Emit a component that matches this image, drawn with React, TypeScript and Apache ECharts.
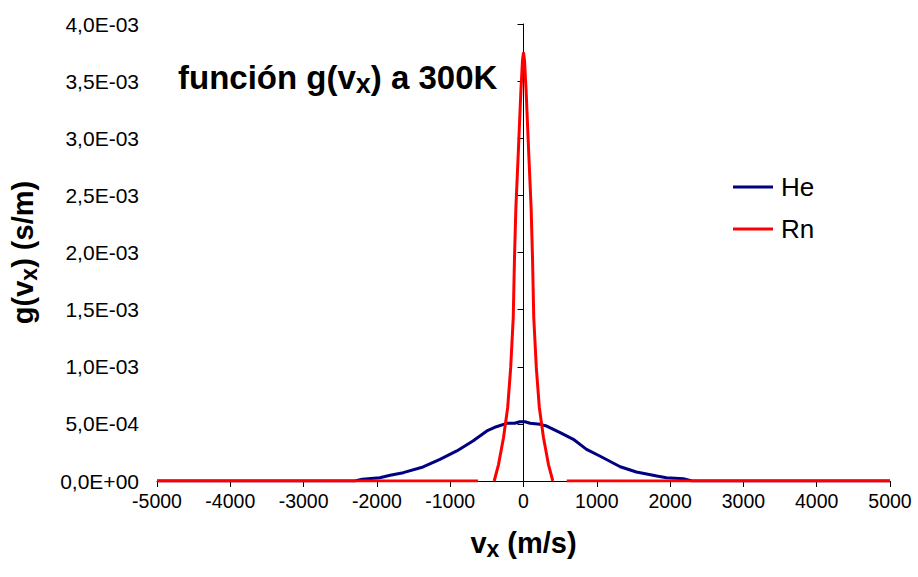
import React, { useEffect, useRef } from "react";
import * as echarts from "echarts";

// x axis ticks (m/s)
const xTicks = [-5000, -4000, -3000, -2000, -1000, 0, 1000, 2000, 3000, 4000, 5000];

// He curve (v_x in m/s, g in s/m)
const heX = [-5000, -2300, -2200, -1960, -1820, -1640, -1370, -1140, -910, -690, -500, -370, -230, -120, -50, 20, 90, 225, 316, 500, 680, 860, 1040, 1320, 1540, 1820, 1950, 2180, 2300, 5000];
const heY = [0, 0, 1.5e-5, 2.9e-5, 5.0e-5, 7.3e-5, 1.23e-4, 1.9e-4, 2.63e-4, 3.5e-4, 4.38e-4, 4.75e-4, 5.05e-4, 5.05e-4, 5.19e-4, 5.19e-4, 5.05e-4, 4.96e-4, 4.81e-4, 4.23e-4, 3.65e-4, 2.77e-4, 2.19e-4, 1.25e-4, 7.9e-5, 4.4e-5, 2.9e-5, 2.0e-5, 0, 0];

// Rn curve (null = gap in the drawn line)
const rnX = [-5000, -620, -500, -400, -340, -273, -216, -175, -140, -123, -104, -72, -36, -14, 0, 14, 36, 72, 104, 123, 140, 175, 216, 273, 340, 400, 500, 590, 5000];
const rnY: (number | null)[] = [0, 0, null, 0, 1.46e-4, 3.79e-4, 6.42e-4, 9.9e-4, 1.43e-3, 1.95e-3, 2.39e-3, 2.86e-3, 3.41e-3, 3.68e-3, 3.75e-3, 3.68e-3, 3.41e-3, 2.86e-3, 2.39e-3, 1.95e-3, 1.43e-3, 9.9e-4, 6.42e-4, 3.79e-4, 1.46e-4, 0, null, 0, 0];

const seriesNames = ["He", "Rn"];
const seriesColors = ["#000080", "#FF0000"];

const FONT = "'Liberation Sans', Arial, Helvetica, sans-serif";

function fmtY(v: number): string {
  const s = v.toExponential(1);
  const [m, e] = s.split("e");
  const n = parseInt(e, 10);
  const sign = n < 0 ? "-" : "+";
  const a = Math.abs(n);
  return m.replace(".", ",") + "E" + sign + (a < 10 ? "0" : "") + a;
}

export default function App() {
  const ref = useRef<HTMLDivElement>(null);
  useEffect(() => {
    if (!ref.current) return;
    const chart = echarts.init(ref.current, undefined, { renderer: "svg" });
    const sub = (size: number, lh: number, pt: number) => ({
      fontSize: size,
      fontWeight: "bold",
      fontFamily: FONT,
      color: "#000",
      lineHeight: lh,
      verticalAlign: "bottom",
      padding: [pt, 0, 0, 0],
    });
    const main = (size: number, lh: number) => ({
      fontSize: size,
      fontWeight: "bold",
      fontFamily: FONT,
      color: "#000",
      lineHeight: lh,
      verticalAlign: "top",
    });
    chart.setOption({
      animation: false,
      backgroundColor: "#fff",
      title: {
        text: "{a|función g(v}{s|x}{a|) a 300K}",
        left: 178,
        top: 61,
        padding: 0,
        textStyle: {
          rich: { a: main(33, 36), s: sub(27, 27, 15) },
        },
      },
      legend: {
        orient: "vertical",
        left: 733,
        top: 173,
        padding: 0,
        itemWidth: 40,
        itemHeight: 3,
        itemGap: 14,
        icon: "rect",
        data: seriesNames,
        textStyle: {
          fontSize: 26,
          lineHeight: 28,
          fontFamily: FONT,
          color: "#000",
          padding: [0, 0, 0, 3],
        },
      },
      grid: {
        left: 157,
        right: 28,
        top: 24,
        bottom: 96,
        containLabel: false,
        outerBoundsMode: "none",
      },
      xAxis: {
        type: "value",
        min: xTicks[0],
        max: xTicks[xTicks.length - 1],
        interval: 1000,
        name: "{a|v}{s|x}{a| (m/s)}",
        nameLocation: "middle",
        nameGap: 47,
        nameTextStyle: { rich: { a: main(29, 32), s: sub(23, 23, 15) } },
        axisLine: { lineStyle: { color: "#000", width: 1 } },
        axisTick: { show: true, length: 6, lineStyle: { color: "#000" } },
        axisLabel: {
          fontSize: 19.5,
          fontFamily: FONT,
          color: "#000",
          margin: 10,
          formatter: (v: number) => String(v),
        },
        splitLine: { show: false },
      },
      yAxis: {
        type: "value",
        min: 0,
        max: 0.004,
        interval: 0.0005,
        name: "{a|g(v}{s|x}{a|) (s/m)}",
        nameLocation: "middle",
        nameRotate: 90,
        nameGap: 117,
        nameTextStyle: { rich: { a: main(29, 32), s: sub(23, 23, 15) } },
        axisLine: { show: true, lineStyle: { color: "#000", width: 1 } },
        axisTick: { show: true, length: 6, lineStyle: { color: "#000" } },
        axisLabel: { fontSize: 21, fontFamily: FONT, color: "#000", margin: 18, formatter: fmtY },
        splitLine: { show: false },
      },
      series: [
        {
          name: seriesNames[0],
          type: "line",
          symbol: "none",
          showSymbol: false,
          color: seriesColors[0],
          lineStyle: { width: 3, color: seriesColors[0] },
          data: heX.map((x, i) => [x, heY[i]]),
        },
        {
          name: seriesNames[1],
          type: "line",
          symbol: "none",
          showSymbol: false,
          connectNulls: false,
          color: seriesColors[1],
          lineStyle: { width: 3, color: seriesColors[1] },
          data: rnX.map((x, i) => [x, rnY[i] === null ? "-" : rnY[i]]),
        },
      ],
    });
    return () => chart.dispose();
  }, []);
  return (
    <div
      ref={ref}
      style={{ position: "fixed", left: 0, top: 0, width: 918, height: 577, background: "#fff" }}
    />
  );
}
